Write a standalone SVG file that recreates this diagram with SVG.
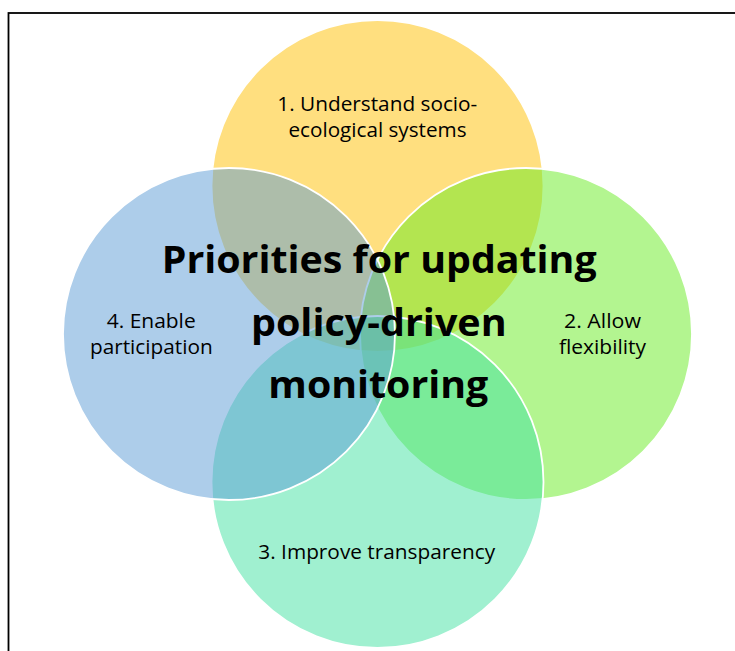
<svg xmlns="http://www.w3.org/2000/svg" width="735" height="651" viewBox="0 0 735 651">
<style>
.c{stroke:#fff;stroke-width:1.8;fill-opacity:0.5}
.lbl{font-family:"Open Sans","Noto Sans","DejaVu Sans",sans-serif;font-size:19.5px;fill:#000;text-anchor:middle}
.ttl{font-family:"Open Sans","Noto Sans","DejaVu Sans",sans-serif;font-size:38px;font-weight:bold;fill:#000;text-anchor:middle}
</style>
<rect x="0" y="0" width="735" height="651" fill="#fff"/>
<rect x="8.5" y="13" width="800" height="700" fill="none" stroke="#000" stroke-width="1.8"/>
<g id="node-1">
<circle class="c" cx="377.5" cy="186" r="166" fill="#FFC000"/>
<text class="lbl" x="377.3" y="111" textLength="200" lengthAdjust="spacingAndGlyphs">1. Understand socio-</text>
<text class="lbl" x="377.5" y="136.7" textLength="178" lengthAdjust="spacingAndGlyphs">ecological systems</text>
</g>
<g id="node-2">
<circle class="c" cx="526" cy="334" r="166" fill="#67EB21"/>
<text class="lbl" x="602.5" y="327.7" textLength="77" lengthAdjust="spacingAndGlyphs">2. Allow</text>
<text class="lbl" x="602.5" y="353.5" textLength="87" lengthAdjust="spacingAndGlyphs">flexibility</text>
</g>
<g id="node-3">
<circle class="c" cx="377.5" cy="482" r="166" fill="#41E1A1"/>
<text class="lbl" x="376.7" y="559.3" textLength="236.7" lengthAdjust="spacingAndGlyphs">3. Improve transparency</text>
</g>
<g id="node-4">
<circle class="c" cx="229" cy="334" r="166" fill="#5B9BD5"/>
<text class="lbl" x="151.2" y="327.7" textLength="89" lengthAdjust="spacingAndGlyphs">4. Enable</text>
<text class="lbl" x="151.3" y="354" textLength="122.7" lengthAdjust="spacingAndGlyphs">participation</text>
</g>
<g id="connectors"></g>
<g id="title">
<text class="ttl" x="379.2" y="273.3" textLength="435" lengthAdjust="spacingAndGlyphs">Priorities for updating</text>
<text class="ttl" x="378.8" y="336" textLength="255.7" lengthAdjust="spacingAndGlyphs">policy-driven</text>
<text class="ttl" x="378.3" y="398.3" textLength="220" lengthAdjust="spacingAndGlyphs">monitoring</text>
</g>
</svg>
